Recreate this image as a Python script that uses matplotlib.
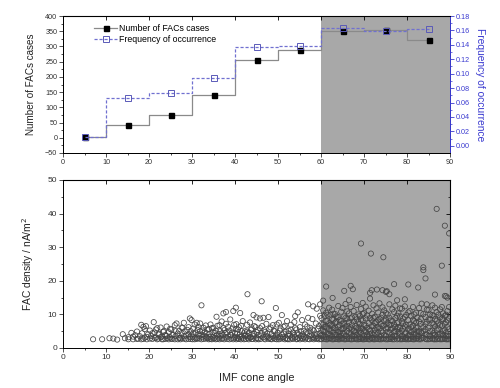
import numpy as np
import matplotlib
matplotlib.use("Agg")
import matplotlib.pyplot as plt

plt.rcParams['font.family'] = ['Liberation Sans', 'DejaVu Sans']

# upper panel: counts and frequency per 10 degree bin
bin_centers = [5, 15, 25, 35, 45, 55, 65, 75, 85]
fac_cases = [2, 42, 75, 142, 254, 290, 352, 354, 322]
occurrence = [0.012, 0.0667, 0.0732, 0.0936, 0.1374, 0.1384, 0.163, 0.1588, 0.1616]

# lower panel: FAC density vs cone angle, one entry per column of circles (angle, [densities])
cloud_05_30 = [
    (7.0, [2.6]), (9.1, [2.6]), (10.8, [2.9]), (11.7, [2.8]), (12.6, [2.5]),
    (13.9, [4.1]), (14.4, [2.9]), (15.2, [3.2, 2.6]), (15.9, [4.5]), (16.3, [2.6, 3.4]),
    (16.8, [3.8]), (17.2, [4.9, 2.7]), (17.5, [2.8]), (17.9, [3.5]), (18.2, [6.9, 2.6]),
    (18.4, [4.4]), (18.7, [2.7, 6.3]), (19.0, [5.6, 3.1]), (19.3, [6.5]), (19.5, [3.3, 2.6]),
    (19.8, [4.1]), (20.2, [5.2, 2.8]), (20.5, [3.6]), (20.8, [2.7, 4.4]), (21.1, [7.7]),
    (21.3, [4.6, 3.0]), (21.6, [3.1, 5.5]), (21.9, [5.9, 2.6]), (22.2, [2.8, 4.0]),
    (22.4, [4.2]), (22.7, [6.1, 3.2]), (23.0, [3.4, 2.6]), (23.3, [2.6, 4.8]),
    (23.5, [5.0]), (23.8, [3.9, 2.7]), (24.1, [6.4, 3.6]), (24.3, [2.9]), (24.6, [4.7, 2.6]),
    (24.9, [3.2, 5.7]), (25.2, [5.5, 2.8]), (25.4, [2.7, 3.9]), (25.7, [4.0]),
    (26.0, [6.8, 2.6]), (26.2, [3.5, 5.0]), (26.4, [7.3]), (26.7, [2.6, 4.3]),
    (27.0, [5.1, 3.0]), (27.3, [3.0, 2.6]), (27.6, [4.4, 6.1]), (27.8, [6.0, 2.8]),
    (28.1, [7.5, 3.5]), (28.3, [2.8, 4.9]), (28.6, [3.7, 2.6]), (28.9, [5.4]),
    (29.2, [4.1, 2.7, 6.2]), (29.5, [8.8, 3.3]), (29.7, [2.7, 5.0]), (29.9, [8.3, 4.0]),
]
cloud_30_60 = [
    (30.1, [3.3, 2.6]), (30.3, [5.8, 4.3]), (30.6, [2.6, 7.0]), (30.8, [4.6, 3.0]),
    (31.1, [7.5, 2.7]), (31.3, [3.0, 5.4]), (31.5, [6.3, 4.1]), (31.7, [2.8, 3.6]),
    (31.9, [7.3, 5.0]), (32.2, [12.7, 4.0, 2.6]), (32.4, [5.2, 3.2]), (32.7, [2.7, 6.0]),
    (32.9, [3.6, 4.7]), (33.2, [6.7, 2.8]), (33.4, [4.4, 3.3]), (33.6, [2.9, 5.5]),
    (33.9, [5.6, 2.6]), (34.1, [3.3, 4.2]), (34.3, [7.0, 2.7]), (34.6, [2.6, 5.9]),
    (34.8, [4.8, 3.4]), (35.0, [6.0, 2.8]), (35.3, [3.0, 4.5]), (35.5, [5.1, 2.6]),
    (35.7, [9.3, 3.7]), (35.9, [2.7, 6.6]), (36.2, [4.2, 3.1]), (36.4, [6.8, 2.6]),
    (36.6, [3.6, 5.0]), (36.9, [7.9, 2.8, 4.3]), (37.1, [2.8, 3.8]), (37.3, [10.3, 5.9]),
    (37.5, [5.3, 2.6]), (37.8, [3.2, 4.5]), (37.9, [10.7, 7.2]), (38.2, [4.6, 2.7]),
    (38.4, [6.3, 3.4]), (38.7, [2.6, 5.2]), (38.9, [8.5, 3.9]), (39.1, [3.9, 2.8]),
    (39.4, [5.8, 4.6]), (39.6, [11.0, 2.6]), (39.8, [2.9, 6.9]), (40.0, [4.4, 3.3]),
    (40.2, [12.0, 5.6]), (40.3, [7.1, 2.6]), (40.5, [3.1, 4.3]), (40.7, [5.5, 2.8]),
    (40.9, [2.7, 6.2]), (41.1, [4.0, 3.3]), (41.2, [10.4]), (41.4, [6.6, 2.6]),
    (41.6, [3.4, 5.0]), (41.8, [8.0, 2.9]), (42.1, [2.6, 4.4]), (42.3, [5.0, 3.6]),
    (42.5, [3.8, 2.7]), (42.8, [6.9, 4.9]), (42.9, [16.0]), (43.0, [2.9, 3.5]),
    (43.2, [4.5, 2.6]), (43.5, [7.6, 3.1]), (43.7, [3.2, 5.4]), (43.9, [5.8, 2.7]),
    (44.1, [2.7, 4.2]), (44.3, [9.8, 3.5]), (44.5, [4.2, 6.5]), (44.8, [6.2, 2.6]),
    (45.0, [9.1, 3.0, 4.7]), (45.3, [5.3, 2.8]), (45.5, [2.6, 3.9]), (45.8, [8.8, 5.9]),
    (46.0, [3.7, 2.7]), (46.2, [13.9, 4.5]), (46.3, [6.5]), (46.6, [9.0, 3.2]),
    (46.8, [2.8, 5.3]), (47.0, [4.8, 2.6]), (47.3, [7.2, 3.6]), (47.5, [3.3, 4.4]),
    (47.8, [9.2, 2.7]), (48.0, [5.6, 3.1]), (48.3, [2.7, 6.1]), (48.5, [4.1, 2.6]),
    (48.8, [6.8, 3.5]), (49.0, [3.0, 5.1]), (49.3, [5.0, 2.7]), (49.5, [11.9, 3.8]),
    (49.7, [2.6, 7.0]), (49.9, [4.5, 3.2]), (50.2, [7.5, 2.6]), (50.4, [3.4, 5.2]),
    (50.6, [5.8, 2.8]), (50.9, [9.8, 4.0]), (51.1, [2.8, 3.3]), (51.3, [4.3, 6.3]),
    (51.6, [6.6, 2.6]), (51.8, [3.0, 4.8]), (52.1, [8.0, 2.7]), (52.3, [2.6, 3.7]),
    (52.5, [5.1, 4.3]), (52.8, [3.7, 2.6]), (53.0, [6.9, 5.5]), (53.3, [2.9, 3.4]),
    (53.5, [4.6, 2.7]), (53.8, [7.7, 3.9]), (54.0, [9.5, 3.2, 5.9]), (54.3, [5.5, 2.6]),
    (54.5, [2.7, 4.4]), (54.6, [10.6]), (54.8, [4.0, 3.0]), (55.1, [6.2, 2.6]),
    (55.3, [3.5, 5.0]), (55.6, [8.3, 2.8]), (55.8, [2.8, 4.1]), (56.0, [5.0, 3.3]),
    (56.3, [7.0, 2.6]), (56.5, [3.1, 4.7]), (56.8, [4.4, 6.4]), (57.0, [13.0, 9.0, 2.7]),
    (57.3, [2.6, 3.6]), (57.5, [6.0, 4.9]), (57.8, [3.8, 2.8]), (58.0, [8.6, 5.5]),
    (58.2, [12.4, 3.2]), (58.3, [5.2, 2.6]), (58.5, [2.9, 4.0]), (58.8, [7.3, 3.4]),
    (59.0, [11.7, 4.1, 2.7]), (59.3, [3.0, 5.7]), (59.5, [6.5, 2.6]), (59.8, [13.0, 9.6, 4.4]),
    (59.9, [2.7, 3.6]),
]
cloud_60_90 = [
    (60.1, [2.6, 5.4, 8.9, 3.9, 7.1]), (60.5, [14.1, 3.8, 7.0, 11.2, 5.2]),
    (60.8, [2.7, 4.9, 9.6, 6.3, 3.4]), (61.2, [18.3, 3.3, 6.3, 10.5, 8.0, 2.6]),
    (61.5, [2.6, 5.8, 8.1, 4.1, 9.9]), (61.9, [4.2, 7.4, 12.0, 2.9, 5.7]),
    (62.2, [2.8, 5.1, 9.9, 6.8, 3.8]), (62.6, [3.5, 6.7, 11.4, 2.6, 8.6]), (62.7, [14.9]),
    (62.9, [2.6, 4.6, 8.4, 5.9, 10.2]), (63.3, [3.9, 6.0, 10.1, 2.7, 7.6]),
    (63.6, [2.7, 5.3, 7.8, 4.0, 9.4]), (64.0, [3.2, 9.2, 12.5, 6.2, 4.7, 2.6]),
    (64.3, [2.6, 4.7, 6.9, 8.3, 3.6]), (64.7, [3.7, 8.0, 10.8, 2.8, 5.6]),
    (65.0, [2.8, 5.6, 11.9, 4.4, 7.3]), (65.4, [17.0, 4.1, 7.2, 9.4, 2.6, 5.9]),
    (65.7, [2.6, 6.4, 13.1, 3.6, 8.9]), (66.1, [3.4, 5.0, 8.7, 10.9, 2.7, 6.6]),
    (66.5, [14.2, 2.7, 7.6, 10.3, 4.5, 5.8]), (66.9, [18.5, 4.4, 6.1, 12.2, 2.6, 8.8]),
    (67.2, [2.6, 5.4, 9.1, 3.5, 7.0]), (67.4, [17.5]), (67.6, [3.6, 7.9, 11.0, 2.7, 5.1]),
    (68.0, [2.8, 4.8, 6.6, 9.3, 3.8]), (68.3, [3.9, 8.5, 12.8, 2.6, 6.0]),
    (68.7, [2.6, 5.9, 10.0, 4.3, 7.7]), (69.0, [3.3, 7.1, 9.5, 2.7, 5.2]),
    (69.3, [31.1, 2.7, 4.5, 11.6, 6.0, 8.4]), (69.7, [5.7, 8.2, 13.4, 3.1, 10.1, 2.6]),
    (70.0, [2.6, 3.8, 6.8, 10.4, 5.0]), (70.4, [4.9, 8.8, 12.3, 2.7, 6.7]),
    (70.7, [2.7, 6.0, 9.7, 4.0, 3.4]), (71.1, [3.5, 7.4, 11.1, 2.6, 5.6]),
    (71.4, [16.4, 14.7, 2.6, 5.2, 8.9, 4.1]), (71.6, [28.1]),
    (71.8, [4.3, 8.3, 17.2, 6.5, 3.0]), (71.9, [10.2, 2.8]), (72.2, [6.5, 12.7, 3.9, 2.6, 9.0]),
    (72.5, [2.6, 5.5, 9.3, 7.4, 4.5]), (72.9, [4.0, 7.8, 11.8, 2.7, 6.1]), (73.0, [17.4]),
    (73.3, [2.7, 6.2, 10.6, 4.5, 8.3]), (73.6, [3.4, 8.6, 13.3, 2.6, 5.8]),
    (74.0, [2.6, 5.0, 7.1, 9.0, 3.7]), (74.3, [17.2, 4.6, 9.9, 12.1, 2.8, 6.6]), (74.5, [27.0]),
    (74.7, [2.8, 6.7, 11.2, 3.8, 8.1]), (75.1, [16.7, 3.7, 5.8, 8.4, 2.6, 10.4]),
    (75.3, [16.9]), (75.5, [2.6, 7.5, 10.0, 4.8, 6.0]),
    (75.9, [16.0, 4.4, 9.0, 13.0, 2.7, 6.9]), (76.2, [2.7, 5.4, 6.9, 3.3, 8.2]),
    (76.6, [3.2, 8.1, 11.5, 5.9, 2.6]), (77.0, [19.0, 2.6, 4.9, 10.7, 7.0, 3.7]),
    (77.3, [6.3, 8.9, 12.6, 3.5, 5.0]), (77.7, [14.2, 3.6, 5.6, 2.6, 9.6, 7.4]),
    (78.0, [2.8, 7.7, 10.3, 4.6, 6.2]), (78.4, [4.2, 6.0, 9.4, 2.6, 11.8]),
    (78.8, [2.6, 5.1, 11.7, 7.9, 3.6]), (79.1, [3.4, 7.3, 8.8, 2.7, 5.8]),
    (79.5, [14.5, 2.7, 6.4, 12.4, 4.3, 9.2]), (79.8, [4.6, 9.8, 3.1, 6.9, 2.6]),
    (80.3, [18.9, 2.6, 5.7, 8.3, 3.7, 10.6]), (80.6, [3.9, 7.0, 11.0, 2.7, 5.2]),
    (81.0, [2.7, 4.8, 9.5, 6.2, 3.5]), (81.4, [3.3, 6.6, 12.2, 2.6, 8.4]),
    (81.7, [2.6, 5.3, 8.0, 4.2, 10.0]), (82.1, [4.1, 7.6, 10.5, 2.8, 6.0]),
    (82.4, [2.8, 6.1, 9.0, 3.5, 4.9]), (82.6, [18.0]), (82.8, [3.5, 5.0, 11.9, 2.6, 7.9]),
    (83.2, [2.6, 7.2, 8.6, 4.7, 10.4]), (83.4, [13.2, 4.4, 3.0]),
    (83.8, [24.0, 23.2, 3.0, 6.3, 10.1, 5.0]), (84.3, [20.7, 2.7, 5.5, 9.2, 4.0, 7.1]),
    (84.6, [13.0, 4.0, 7.8, 2.6, 11.4]), (85.0, [2.6, 6.0, 11.3, 3.6, 8.5]),
    (85.4, [3.6, 8.4, 10.0, 5.1, 2.7]), (85.9, [12.7, 2.8, 5.2, 7.4, 9.8]),
    (86.2, [4.5, 7.0, 9.6, 2.6, 3.7]), (86.5, [15.9, 2.6, 6.4, 12.0, 3.9, 8.6]),
    (86.9, [41.4, 3.4, 8.1, 10.7, 5.3, 2.6]), (87.3, [2.7, 5.8, 7.3, 4.1, 9.9]),
    (87.7, [4.2, 9.1, 11.5, 2.6, 6.8]), (88.1, [24.5, 12.2, 2.6, 6.6, 8.7, 4.3]),
    (88.4, [3.8, 8.5, 10.3, 5.0, 2.7]), (88.8, [36.4, 15.5, 2.8, 5.4, 7.2, 9.6]),
    (89.1, [15.4, 4.6, 7.7, 9.9, 2.6, 3.6]), (89.4, [15.0, 2.6, 6.2, 11.0, 3.7, 8.2]),
    (89.8, [34.1, 3.5, 8.8, 12.2, 5.6, 2.6]),
]

angle_ticks = [0, 10, 20, 30, 40, 50, 60, 70, 80, 90]
shade_start, shade_end = 60, 90

fig = plt.figure(figsize=(5.0, 3.88), dpi=100)
ax1 = fig.add_axes([0.126, 0.6057, 0.774, 0.353])
ax2 = fig.add_axes([0.126, 0.1031, 0.774, 0.4330])

tick_fs = 5.2
blue = '#3a3ad0'

# ---- upper panel
ax1.axvspan(shade_start, shade_end, color='#a8a8a8', lw=0, zorder=0)
ax1.plot(bin_centers, fac_cases, drawstyle='steps-mid', color='#8a8a8a', lw=0.9,
         marker='s', ms=3.6, mfc='black', mec='black', label='Number of FACs cases')
ax1.plot([], [], color='#7070d0', lw=0.9, ls=(0, (2.5, 1.5)), marker='s', ms=4.2,
         mfc='none', mec='#5a5ab8', mew=0.7, label='Frequency of occurrence')
ax1.set_xlim(0, 90)
ax1.set_ylim(-50, 400)
ax1.set_xticks(angle_ticks)
ax1.set_yticks(np.arange(-50, 401, 50))
ax1.set_yticks(np.arange(-50, 401, 25), minor=True)
ax1.set_xticks(np.arange(0, 91, 5), minor=True)
ax1.tick_params(axis='both', which='major', direction='out', length=2.6, width=0.6,
                labelsize=tick_fs, pad=1.5, colors='#333333')
ax1.tick_params(axis='both', which='minor', direction='out', length=1.5, width=0.5)
ax1.set_ylabel('Number of FACs cases', fontsize=7.1, color='#222222')
ax1.yaxis.set_label_coords(-0.07, 0.5)
top1 = ax1.secondary_xaxis('top')
top1.set_xticks(angle_ticks)
top1.set_xticklabels([])
top1.tick_params(direction='in', length=2.6, width=0.6)

ax1r = ax1.twinx()
ax1r.plot(bin_centers, occurrence, drawstyle='steps-mid', color='#7070d0', lw=0.9,
          ls=(0, (2.5, 1.5)), marker='s', ms=4.2, mfc='none', mec='#5a5ab8', mew=0.7)
ax1r.set_ylim(-0.01, 0.18)
ax1r.set_yticks(np.arange(0, 0.181, 0.02))
ax1r.set_yticks(np.arange(0, 0.181, 0.01), minor=True)
ax1r.set_yticklabels([f'{v:.2f}' for v in np.arange(0, 0.181, 0.02)])
ax1r.tick_params(axis='y', which='major', direction='out', length=2.6, width=0.6,
                 labelsize=tick_fs, pad=1.5, colors=blue)
ax1r.tick_params(axis='y', which='minor', direction='out', length=1.5, width=0.5, colors=blue)
ax1r.set_ylabel('Frequency of occurrence', fontsize=7.4, color=blue, rotation=270)
ax1r.yaxis.set_label_coords(1.09, 0.5)

for ax in (ax1, ax1r):
    for s in ax.spines.values():
        s.set_linewidth(0.7)
ax1r.spines['right'].set_color(blue)

h, l = ax1.get_legend_handles_labels()
ax1.legend(h, l, loc='upper left', bbox_to_anchor=(0.072, 0.97), frameon=False,
           fontsize=6.3, handlelength=2.6, handletextpad=0.2, labelspacing=0.25,
           borderaxespad=0.0, numpoints=1)

# ---- lower panel
ax2.axvspan(shade_start, shade_end, color='#a8a8a8', lw=0, zorder=0)
for cloud in (cloud_05_30, cloud_30_60, cloud_60_90):
    xs = [a for a, ds in cloud for d in ds]
    ys = [d for a, ds in cloud for d in ds]
    ax2.scatter(xs, ys, s=14, facecolors='none', edgecolors='#454545', linewidths=0.55,
                zorder=2)
ax2.set_xlim(0, 90)
ax2.set_ylim(0, 50)
ax2.set_xticks(angle_ticks)
ax2.set_xticks(np.arange(0, 91, 5), minor=True)
ax2.set_yticks(np.arange(0, 51, 10))
ax2.set_yticks(np.arange(0, 51, 5), minor=True)
ax2.tick_params(axis='both', which='major', direction='out', length=2.6, width=0.6,
                labelsize=6.0, pad=1.5, colors='#333333')
ax2.tick_params(axis='both', which='minor', direction='out', length=1.5, width=0.5)
ax2.set_xlabel('IMF cone angle', fontsize=7.8, color='#222222')
ax2.xaxis.set_label_coords(0.5, -0.15)
ax2.set_ylabel('FAC density / nA/m$^2$', fontsize=7.4, color='#222222')
ax2.yaxis.set_label_coords(-0.07, 0.5)
for s in ax2.spines.values():
    s.set_linewidth(0.7)
top2 = ax2.secondary_xaxis('top')
top2.set_xticks(angle_ticks)
top2.set_xticklabels([])
top2.tick_params(direction='in', length=2.6, width=0.6)
right2 = ax2.secondary_yaxis('right')
right2.set_yticks(np.arange(0, 51, 10))
right2.set_yticks(np.arange(0, 51, 5), minor=True)
right2.set_yticklabels([])
right2.tick_params(which='major', direction='in', length=2.6, width=0.6)
right2.tick_params(which='minor', direction='in', length=1.5, width=0.5)

fig.savefig('out.png', dpi=100)
